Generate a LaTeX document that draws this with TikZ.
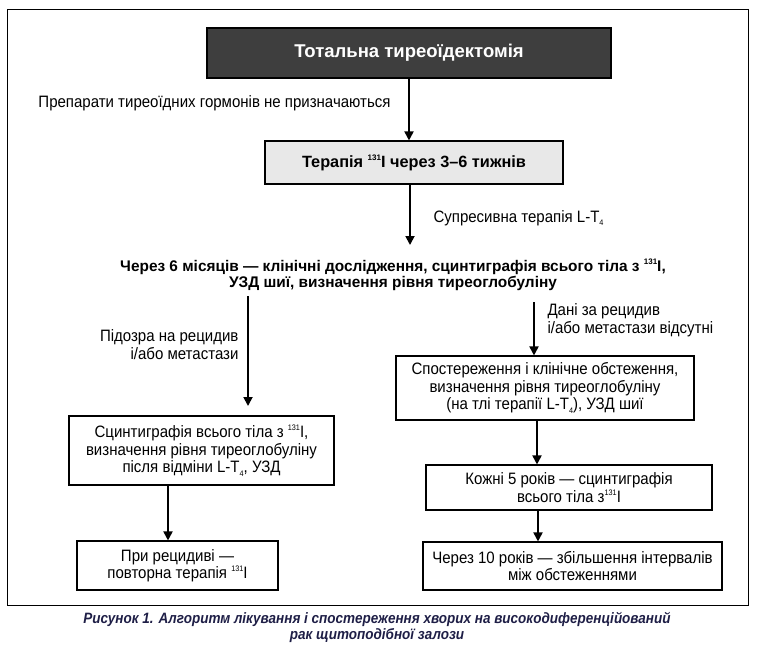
\documentclass[tikz,border=0pt]{standalone}
\usepackage{fontspec}
\setmainfont{Liberation Sans}
\newfontfamily\narrowfont{Liberation Sans}[FakeStretch=0.91]
\newfontfamily\capfont{Liberation Sans}[FakeStretch=0.9]
\usetikzlibrary{arrows.meta}

\definecolor{darkbox}{RGB}{62,62,62}
\definecolor{lightbox}{RGB}{232,232,232}
\definecolor{capblue}{RGB}{30,30,70}
\newcommand{\iod}{\raisebox{0.8ex}{\fontsize{8}{8}\selectfont 131}I}
\newcommand{\ltf}{L-T\raisebox{-0.4ex}{\fontsize{8}{8}\selectfont 4}}

\begin{document}
\begin{tikzpicture}[x=1pt, y=-1pt,
    every node/.style={font=\narrowfont\fontsize{16.5}{17.5}\selectfont},
    box/.style={draw, line width=1.1pt, align=center, inner sep=0pt},
    arr/.style={-{Triangle[length=9pt, width=9pt]}, line width=1.8pt}]
    \useasboundingbox (0,0) rectangle (761,646);
    \draw [line width=1pt] (7,9) rectangle (748,605);

    \node [box, fill=darkbox, text=white, minimum width=404pt, minimum height=50pt,
        font=\bfseries\fontsize{18.5}{20}\selectfont] (thyr) at (409,53) {Тотальна тиреоїдектомія};
    \node [box, fill=lightbox, minimum width=298pt, minimum height=43pt,
        font=\bfseries\fontsize{16.3}{17}\selectfont] (iodine) at (414,162.5) {Терапія \iod{} через 3–6 тижнів};
    \node [align=center, font=\bfseries\fontsize{15.4}{16}\selectfont] (check) at (393,275)
        {Через 6 місяців — клінічні дослідження, сцинтиграфія всього тіла з \iod,\\
         УЗД шиї, визначення рівня тиреоглобуліну};

    \node [box, minimum width=265pt, minimum height=69pt] (scint) at (201.5,450.5)
        {Сцинтиграфія всього тіла з \iod,\\ визначення рівня тиреоглобуліну\\ після відміни \ltf, УЗД};
    \node [box, minimum width=201pt, minimum height=49pt] (repeat) at (177.5,565.5)
        {При рецидиві —\\ повторна терапія \iod};
    \node [box, minimum width=298pt, minimum height=64pt] (observ) at (545,388)
        {Спостереження і клінічне обстеження,\\ визначення рівня тиреоглобуліну\\ (на тлі терапії \ltf), УЗД шиї};
    \node [box, minimum width=286pt, minimum height=45pt] (five) at (569,487.5)
        {Кожні 5 років — сцинтиграфія\\ всього тіла з\iod};
    \node [box, minimum width=299pt, minimum height=48pt] (ten) at (572.5,566)
        {Через 10 років — збільшення інтервалів\\ між обстеженнями};

    % labels
    \node [anchor=east] (nohorm) at (394,103) {Препарати тиреоїдних гормонів не призначаються};
    \node [anchor=west] (suppr) at (430,218) {Супресивна терапія \ltf};
    \node [anchor=east, align=right] (suspl) at (242,344.5) {Підозра на рецидив\\ і/або метастази};
    \node [anchor=west, align=left] (nonel) at (544,320) {Дані за рецидив\\ і/або метастази відсутні};

    \coordinate (checkin) at (410,245);
    \coordinate (suspfrom) at (248,296);
    \coordinate (susp) at (248,406);
    \coordinate (nofrom) at (534,302);

    \draw [arr] (thyr.south) -- (iodine.north -| thyr.south);
    \draw [arr] (iodine.south -| checkin) -- (checkin);
    \draw [arr] (suspfrom) -- (susp);
    \draw [arr] (nofrom) -- (nofrom |- observ.north);
    \draw [arr] ([xshift=-33.5pt]scint.south) -- ([xshift=-33.5pt]scint.south |- repeat.north);
    \draw [arr] ([xshift=-8pt]observ.south) -- ([xshift=-8pt]observ.south |- five.north);
    \draw [arr] ([xshift=-31pt]five.south) -- ([xshift=-31pt]five.south |- ten.north);

    \node [align=center, text=capblue, font=\capfont\bfseries\itshape\fontsize{15}{16}\selectfont] (caption) at (377,627)
        {Рисунок 1. Алгоритм лікування і спостереження хворих на високодиференційований\\
         рак щитоподібної залози};
\end{tikzpicture}
\end{document}
